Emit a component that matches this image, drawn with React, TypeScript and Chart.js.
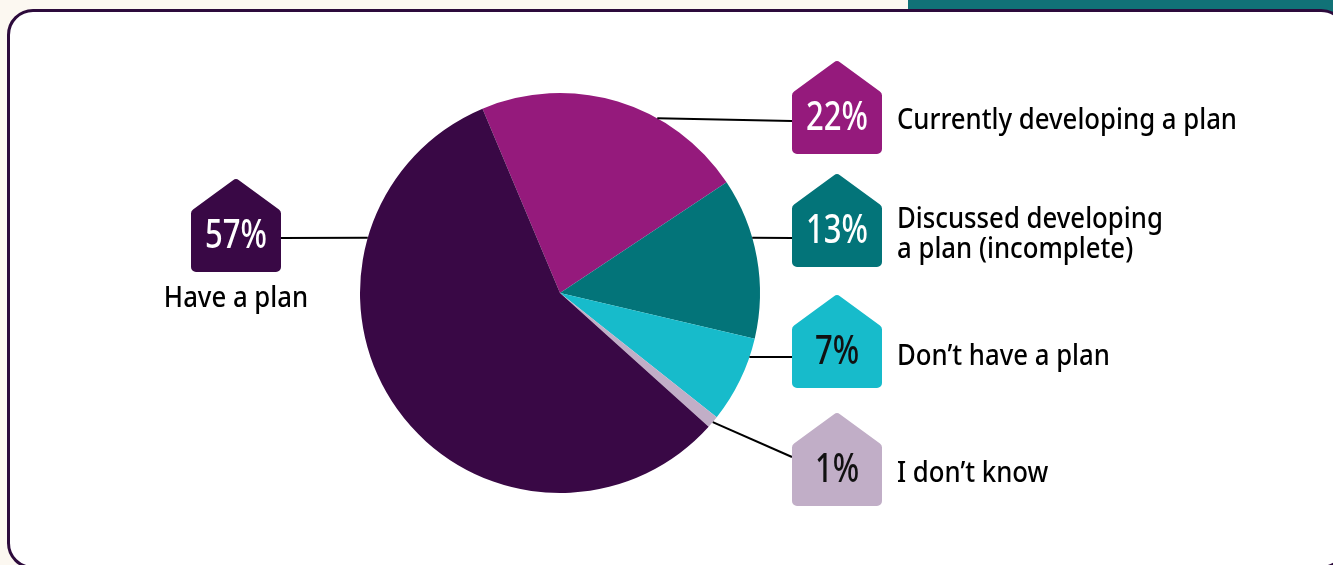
import React, { useEffect, useRef } from "react";
import { Chart, registerables } from "chart.js";

Chart.register(...registerables);

const categories = [
  "Currently developing a plan",
  "Discussed developing\na plan (incomplete)",
  "Don\u2019t have a plan",
  "I don\u2019t know",
  "Have a plan",
];
const values = [22, 13, 7, 1, 57];
const percentLabels = ["22%", "13%", "7%", "1%", "57%"];
const sliceColors = ["#951a7c", "#037479", "#17bbcb", "#c1aec7", "#390845"];
const badgeTextColors = ["#ffffff", "#ffffff", "#111111", "#111111", "#ffffff"];

// layout of the callouts (positions only)
const badgeLayout = [
  { x: 792, peak: 60, lineAngle: 29.1, lineEnd: [792, 121], labelX: 897, labelBase: [129], align: "left" },
  { x: 792, peak: 173, lineAngle: 74, lineEnd: [792, 238], labelX: 897, labelBase: [228, 258], align: "left" },
  { x: 792, peak: 294, lineAngle: 108.7, lineEnd: [792, 357], labelX: 897, labelBase: [365], align: "left" },
  { x: 792, peak: 412, lineAngle: 130.2, lineEnd: [792, 457], labelX: 897, labelBase: [482], align: "left" },
  { x: 191, peak: 178, lineAngle: 286, lineEnd: [281, 238], labelX: 236, labelBase: [307], align: "center" },
];

const BADGE_W = 90;
const BADGE_H = 94;
const ROOF = 33;

function badgePath(ctx: CanvasRenderingContext2D, x: number, top: number) {
  const r = 5;
  const w = BADGE_W;
  const pts: [number, number][] = [
    [x + w / 2, top],
    [x + w, top + ROOF],
    [x + w, top + BADGE_H],
    [x, top + BADGE_H],
    [x, top + ROOF],
  ];
  ctx.beginPath();
  const n = pts.length;
  const start = [(pts[n - 1][0] + pts[0][0]) / 2, (pts[n - 1][1] + pts[0][1]) / 2];
  ctx.moveTo(start[0], start[1]);
  for (let i = 0; i < n; i++) {
    const p = pts[i];
    const q = pts[(i + 1) % n];
    ctx.arcTo(p[0], p[1], q[0], q[1], r);
  }
  ctx.closePath();
}

const calloutPlugin = {
  id: "callouts",
  afterDraw(chart: any) {
    const ctx: CanvasRenderingContext2D = chart.ctx;
    const meta = chart.getDatasetMeta(0);
    const arc = meta.data[0];
    const cx = arc.x;
    const cy = arc.y;
    const R = arc.outerRadius;

    ctx.save();
    const labelFont = "500 29px 'Noto Sans'";
    const pctFont = "500 40px 'Noto Sans'";
    ctx.font = labelFont;
    const lsx = 340 / ctx.measureText("Currently developing a plan").width;
    ctx.font = pctFont;
    const psx = 62 / ctx.measureText("57%").width;

    values.forEach((v, i) => {
      const L = badgeLayout[i];
      const a = (L.lineAngle * Math.PI) / 180;
      const sx = cx + R * Math.sin(a);
      const sy = cy - R * Math.cos(a);
      ctx.strokeStyle = "#000000";
      ctx.lineWidth = 2;
      ctx.beginPath();
      ctx.moveTo(sx, sy);
      ctx.lineTo(L.lineEnd[0], L.lineEnd[1]);
      ctx.stroke();

      badgePath(ctx, L.x, L.peak);
      ctx.fillStyle = sliceColors[i];
      ctx.fill();

      ctx.fillStyle = badgeTextColors[i];
      ctx.font = pctFont;
      ctx.textAlign = "center";
      ctx.textBaseline = "alphabetic";
      ctx.save();
      ctx.translate(L.x + BADGE_W / 2, L.peak + 70);
      ctx.scale(psx, 1);
      ctx.fillText(percentLabels[i], 0, 0);
      ctx.restore();

      ctx.fillStyle = "#000000";
      ctx.font = labelFont;
      ctx.textAlign = L.align as CanvasTextAlign;
      const lines = categories[i].split("\n");
      lines.forEach((line, j) => {
        ctx.save();
        ctx.translate(L.labelX, L.labelBase[j]);
        ctx.scale(lsx, 1);
        ctx.fillText(line, 0, 0);
        ctx.restore();
      });
    });
    ctx.restore();
  },
};

export default function App() {
  const ref = useRef<HTMLCanvasElement | null>(null);

  useEffect(() => {
    document.body.style.margin = "0";
    if (!ref.current) return;
    const chart = new Chart(ref.current, {
      type: "pie",
      data: {
        labels: categories,
        datasets: [
          {
            data: values,
            backgroundColor: sliceColors,
            borderWidth: 0,
          },
        ],
      },
      options: {
        animation: false,
        responsive: false,
        rotation: -22.8,
        layout: { padding: { left: 360, right: 573, top: 93, bottom: 72 } },
        plugins: {
          legend: { display: false },
          tooltip: { enabled: false },
        },
      },
      plugins: [calloutPlugin],
    });
    return () => chart.destroy();
  }, []);

  return (
    <div
      style={{
        position: "absolute",
        left: 0,
        top: 0,
        width: 1333,
        height: 565,
        overflow: "hidden",
        background: "#fcf8f1",
      }}
    >
      <div
        style={{
          position: "absolute",
          left: 908,
          top: -20,
          width: 460,
          height: 60,
          background: "#117277",
          borderRadius: 20,
        }}
      />
      <div
        style={{
          position: "absolute",
          left: 7,
          top: 9,
          width: 1340,
          height: 560,
          boxSizing: "border-box",
          background: "#ffffff",
          border: "3px solid #2d0b3c",
          borderRadius: 26,
        }}
      />
      <canvas
        ref={ref}
        width={1333}
        height={565}
        style={{ position: "absolute", left: 0, top: 0, width: 1333, height: 565 }}
      />
    </div>
  );
}
